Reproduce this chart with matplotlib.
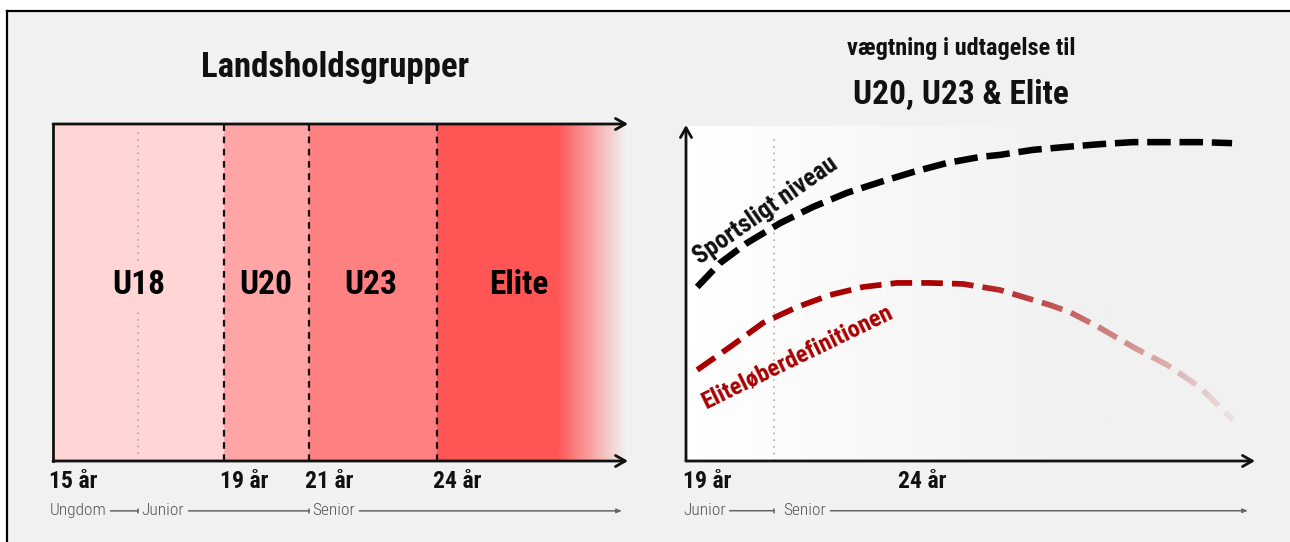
import numpy as np
import matplotlib
matplotlib.use("Agg")
import matplotlib.pyplot as plt
from matplotlib import font_manager
from matplotlib.patches import Rectangle
from matplotlib.colors import to_rgb
import matplotlib.transforms as mtransforms

# ---------------- data ----------------
left_ages = [15, 19, 21, 24]
left_tick_labels = ["15 år", "19 år", "21 år", "24 år"]
groups = ["U18", "U20", "U23", "Elite"]
group_start = [15, 19, 21, 24]
group_end = [19, 21, 24, 26.8]
group_colors = ["#ffd5d5", "#ffa5a5", "#ff8080", "#ff5555"]
group_label_x = [17.0, 19.98, 22.45, 25.9]
elite_fade_end = 28.4
junior_start_left = 17
senior_start_left = 21
phases_left = ["Ungdom", "Junior", "Senior"]

right_ages = [19, 24]
right_tick_labels = ["19 år", "24 år"]
senior_start_right = 21.05
phases_right = ["Junior", "Senior"]

sport_age = [19.26, 19.79, 20.42, 21.19, 21.95, 22.74, 23.51, 24.28, 25.07,
             25.84, 26.30, 27.07, 27.86, 28.63, 29.40, 30.19, 30.95, 31.70]
sport_val = [51.8, 58.9, 64.9, 70.8, 75.6, 79.8, 83.0, 86.0, 88.7,
             90.5, 91.1, 92.6, 93.5, 94.3, 94.9, 94.9, 94.9, 94.6]
elite_age = [19.26, 20.02, 20.79, 21.58, 22.35, 23.12, 23.91, 24.67, 25.44,
             26.30, 27.47, 27.93, 28.63, 29.40, 30.19, 30.95, 31.72]
elite_val = [27.1, 33.9, 41.1, 45.8, 49.4, 51.8, 53.0, 53.0, 52.7,
             50.9, 46.4, 44.3, 39.6, 33.9, 28.6, 22.0, 12.2]

# ---------------- fonts ----------------
names = {f.name for f in font_manager.fontManager.ttflist}
if "Roboto Condensed" in names:
    FB = dict(family="Roboto Condensed", weight="bold")
    FL = dict(family="Roboto Condensed", weight="light")
elif "Liberation Sans Narrow" in names:
    FB = dict(family="Liberation Sans Narrow", weight="bold")
    FL = dict(family="Liberation Sans Narrow", weight="normal")
else:
    FB = dict(family="DejaVu Sans", weight="bold", stretch="condensed")
    FL = dict(family="DejaVu Sans", weight="normal", stretch="condensed")

BG = "#f1f1f1"
W, H = 1290, 542
fig = plt.figure(figsize=(W / 100, H / 100), dpi=100)
fig.patch.set_facecolor("white")

# frame
frame = fig.add_axes([0, 0, 1, 1])
frame.set_xlim(0, W)
frame.set_ylim(H, 0)
frame.axis("off")
frame.add_patch(Rectangle((7, 11), 1400, 700, facecolor=BG, edgecolor="none"))
frame.plot([7, 1400], [11, 11], color="black", lw=1.6, solid_capstyle="projecting")
frame.plot([7, 7], [11, 600], color="black", lw=1.6, solid_capstyle="projecting")


def px_axes(l, t, r, b):
    return fig.add_axes([l / W, 1 - b / H, (r - l) / W, (b - t) / H])


n = 256
t = np.linspace(0, 1, n)
bgc = np.array(to_rgb(BG))

# ---------------- left panel ----------------
scale_l = 42.7
ax1 = px_axes(53, 124, 628, 461)
x1max = 15 + 575 / scale_l
ax1.axis("off")
for s, e, c in zip(group_start, group_end, group_colors):
    ax1.axvspan(s, e, color=c, lw=0, zorder=1)
rgb = np.array(to_rgb(group_colors[-1]))
grad = (1 - t)[:, None] * rgb + t[:, None] * bgc
ax1.imshow(grad[None, :, :], extent=[group_end[-1], elite_fade_end, 0, 1],
           aspect="auto", zorder=1, interpolation="bilinear")
ax1.set_xlim(15, x1max)
ax1.set_ylim(0, 1)

for a in left_ages[1:]:
    ax1.plot([a, a], [0, 1], color="#111111", lw=1.6, ls=(0, (3, 2.5)), zorder=3)
ax1.plot([junior_start_left] * 2, [0.02, 0.98], color="#aaaaaa", lw=1.2,
         ls=(0, (1, 3)), zorder=2)
ax1.plot([15, 15], [0, 1], color="#111111", lw=2, zorder=4, clip_on=False)
for yv in (0, 1):
    ax1.annotate("", xy=(x1max, yv), xytext=(15, yv),
                 xycoords="data", annotation_clip=False,
                 arrowprops=dict(arrowstyle="->,head_length=0.7,head_width=0.4",
                                 color="#111111", lw=2, shrinkA=0, shrinkB=0), zorder=5)

for g, x, c in zip(groups, group_label_x, group_colors):
    ax1.text(x, 0.522, g, ha="center", va="center", fontsize=24, zorder=4,
             bbox=dict(facecolor=c, edgecolor="none", pad=4), **FB)

trl = mtransforms.blended_transform_factory(ax1.transData, ax1.transAxes)
for a, lab in zip(left_ages, left_tick_labels):
    ax1.text(a - 0.1, -0.062, lab, transform=trl, ha="left", va="center",
             fontsize=17, color="#111111", **FB)

yph = -0.148
ph_left_x = [14.92, junior_start_left + 0.08, senior_start_left + 0.08]
ph_left_texts = [ax1.text(x, yph, p, transform=trl, ha="left", va="center",
                          fontsize=12.5, color="#555555", **FL)
                 for x, p in zip(ph_left_x, phases_left)]

frame.text(335, 68, "Landsholdsgrupper", ha="center", va="center", fontsize=25,
           color="#111111", **FB)

# ---------------- right panel ----------------
scale_r = 43.0
ax2 = px_axes(686, 125, 1255, 461)
x2max = 19 + 569 / scale_r
ax2.axis("off")
bg_x0, bg_x1 = 19.3, 28.0
xs = np.linspace(19, x2max, 600)
f = np.clip((xs - bg_x0) / (bg_x1 - bg_x0), 0, 1)
bg_cols = (1 - f)[:, None] * np.ones(3) + f[:, None] * bgc
ax2.imshow(bg_cols[None, :, :], extent=[19, x2max, 0, 99.5], aspect="auto",
           zorder=0, interpolation="bilinear")

ax2.plot([senior_start_right] * 2, [0, 97], color="#b0b0b0", lw=1.2,
         ls=(0, (1, 3)), zorder=1)

ax2.plot(sport_age, sport_val, color="black", lw=4.7, ls=(0, (3.6, 1.35)),
         dash_capstyle="butt", zorder=3)
ax2.plot(elite_age, elite_val, color="#a80000", lw=4.1, ls=(0, (3.8, 1.6)),
         dash_capstyle="butt", zorder=3)
# fade the red curve toward the right (overlay in local background colour)
fade_x0 = 25.0
fa = np.clip((xs - fade_x0) / (31.85 - fade_x0), 0, 1)
fade = np.zeros((1, len(xs), 4))
fade[0, :, :3] = bg_cols
fade[0, :, 3] = 0.96 * fa ** 1.0
ax2.imshow(fade, extent=[19, x2max, 5, 58], aspect="auto", zorder=4,
           interpolation="bilinear")
ax2.set_xlim(19, x2max)
ax2.set_ylim(0, 100)

for xy in [(x2max, 0), (19, 100)]:
    ax2.annotate("", xy=xy, xytext=(19, 0), xycoords="data",
                 annotation_clip=False,
                 arrowprops=dict(arrowstyle="->,head_length=0.7,head_width=0.4",
                                 color="#111111", lw=2, shrinkA=0, shrinkB=0), zorder=5)

ax2.text(20.86, 74.5, "Sportsligt niveau", rotation=35, ha="center", va="center",
         fontsize=18, color="#111111", rotation_mode="anchor", zorder=5, **FB)
ax2.text(21.6, 31.0, "Eliteløberdefinitionen", rotation=26, ha="center",
         va="center", fontsize=17.5, color="#a80000", rotation_mode="anchor",
         zorder=5, **FB)

trr = mtransforms.blended_transform_factory(ax2.transData, ax2.transAxes)
for a, lab in zip(right_ages, right_tick_labels):
    ax2.text(a - 0.08, -0.062, lab, transform=trr, ha="left", va="center",
             fontsize=17, color="#111111", **FB)
ph_right_x = [18.93, senior_start_right + 0.22]
ph_right_texts = [ax2.text(x, yph, p, transform=trr, ha="left", va="center",
                           fontsize=12.5, color="#555555", **FL)
                  for x, p in zip(ph_right_x, phases_right)]

frame.text(961, 49, "vægtning i udtagelse til", ha="center", va="center",
           fontsize=17.5, color="#111111", **FB)
frame.text(961, 95, "U20, U23 & Elite", ha="center", va="center", fontsize=24,
           color="#111111", **FB)

# ---------------- phase arrows (start after each text) ----------------
fig.canvas.draw()
renderer = fig.canvas.get_renderer()
arr_kw = dict(color="#666666", lw=1.1, shrinkA=0, shrinkB=0)
bar_style = "|-|,widthA=0,widthB=0.15"
head_style = "-|>,head_length=0.3,head_width=0.12"


def text_end(ax, txt):
    bb = txt.get_window_extent(renderer)
    return ax.transData.inverted().transform((bb.x1 + 4, bb.y0))[0]


for ax, texts, ends, styles, tr in [
    (ax1, ph_left_texts, [junior_start_left, senior_start_left, 15 + 569 / scale_l],
     [bar_style, bar_style, head_style], trl),
    (ax2, ph_right_texts, [senior_start_right, 19 + 562 / scale_r],
     [bar_style, head_style], trr),
]:
    for txt, e, st in zip(texts, ends, styles):
        s = text_end(ax, txt)
        ax.annotate("", xy=(e, yph), xytext=(s, yph), xycoords=tr,
                    annotation_clip=False, arrowprops=dict(arrowstyle=st, **arr_kw))

fig.savefig("out.png", dpi=100, facecolor=fig.get_facecolor())
